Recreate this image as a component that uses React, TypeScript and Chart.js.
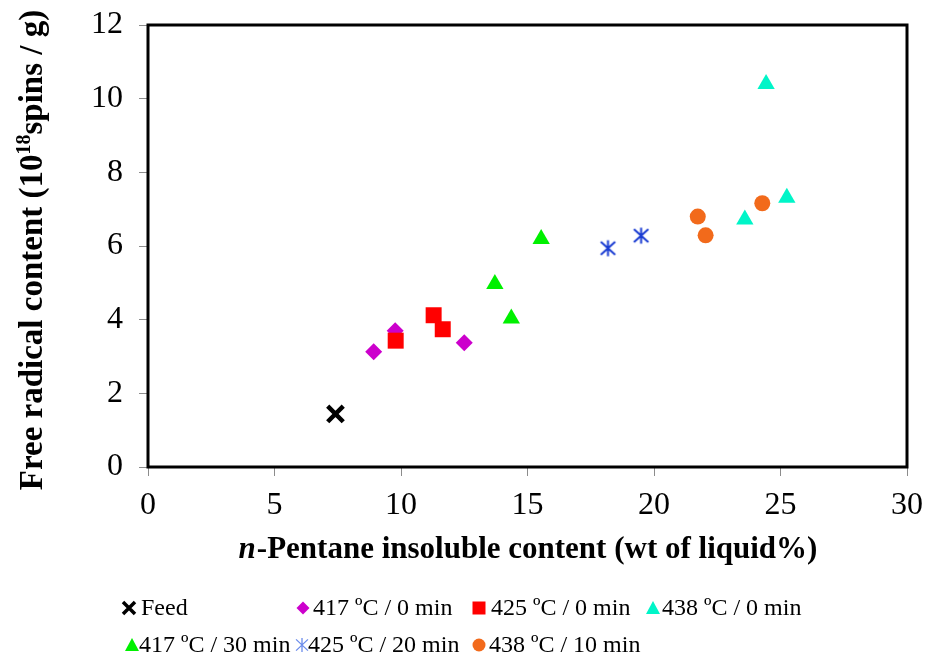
import React, { useEffect, useRef } from 'react';
import { Chart, registerables } from 'chart.js';

Chart.register(...registerables);

const SERIF = '"Liberation Serif", "Times New Roman", serif';

// ---- data ----
const seriesNames = [
  'Feed',
  '417 ºC / 0 min',
  '425 ºC / 0 min',
  '438 ºC / 0 min',
  '417 ºC / 30 min',
  '425 ºC / 20 min',
  '438 ºC / 10 min',
];

const feedX = [7.41];
const feedY = [1.44];
const s417_0X = [8.92, 9.77, 12.5];
const s417_0Y = [3.13, 3.7, 3.37];
const s425_0X = [9.79, 11.29, 11.65];
const s425_0Y = [3.43, 4.12, 3.74];
const s438_0X = [24.43, 23.59, 25.25];
const s438_0Y = [10.4, 6.72, 7.31];
const s417_30X = [13.71, 14.36, 15.54];
const s417_30Y = [4.97, 4.03, 6.19];
const s425_20X = [18.18, 19.49];
const s425_20Y = [5.94, 6.28];
const s438_10X = [21.73, 22.04, 24.28];
const s438_10Y = [6.8, 6.29, 7.16];

const xMin = 0, xMax = 30, xStep = 5;
const yMin = 0, yMax = 12, yStep = 2;

const xTitleItalic = 'n';
const xTitleRest = '-Pentane insoluble content (wt of liquid%)';
const yTitleParts = ['Free radical content (10', '18', 'spins / g)'];

// ---- styles ----
const colors = ['#000000', '#CC00CC', '#FF0000', '#00F5C8', '#00F000', '#1A3CD2', '#F26A1B'];
const legendColors = ['#000000', '#CC00CC', '#FF0000', '#00F5C8', '#00F000', '#6B8CEB', '#F26A1B'];
const kinds = ['x', 'diamond', 'square', 'triangle', 'triangle', 'asterisk', 'circle'];

function zip(xs: number[], ys: number[]) {
  return xs.map((x, i) => ({ x, y: ys[i] }));
}

function makeAsterisk(size: number, color: string, lw: number) {
  const c = document.createElement('canvas');
  c.width = size;
  c.height = size;
  const g = c.getContext('2d')!;
  g.strokeStyle = color;
  g.lineWidth = lw;
  const h = size / 2;
  const r = h - lw / 2 - 0.5;
  g.beginPath();
  g.moveTo(h, h - r);
  g.lineTo(h, h + r);
  g.moveTo(h - r * 0.9, h - r * 0.8);
  g.lineTo(h + r * 0.9, h + r * 0.8);
  g.moveTo(h + r * 0.9, h - r * 0.8);
  g.lineTo(h - r * 0.9, h + r * 0.8);
  g.stroke();
  return c;
}

function drawMarker(ctx: CanvasRenderingContext2D, kind: string, x: number, y: number, s: number, color: string) {
  ctx.save();
  ctx.fillStyle = color;
  ctx.strokeStyle = color;
  ctx.beginPath();
  if (kind === 'x') {
    ctx.lineWidth = 3.5;
    ctx.moveTo(x - s, y - s);
    ctx.lineTo(x + s, y + s);
    ctx.moveTo(x + s, y - s);
    ctx.lineTo(x - s, y + s);
    ctx.stroke();
  } else if (kind === 'diamond') {
    ctx.moveTo(x, y - s);
    ctx.lineTo(x + s, y);
    ctx.lineTo(x, y + s);
    ctx.lineTo(x - s, y);
    ctx.closePath();
    ctx.fill();
  } else if (kind === 'square') {
    ctx.rect(x - s, y - s, 2 * s, 2 * s);
    ctx.fill();
  } else if (kind === 'triangle') {
    ctx.moveTo(x, y - s);
    ctx.lineTo(x + s, y + s * 0.85);
    ctx.lineTo(x - s, y + s * 0.85);
    ctx.closePath();
    ctx.fill();
  } else if (kind === 'asterisk') {
    ctx.lineWidth = 1.3;
    ctx.moveTo(x, y - s);
    ctx.lineTo(x, y + s);
    ctx.moveTo(x - s * 0.85, y - s * 0.8);
    ctx.lineTo(x + s * 0.85, y + s * 0.8);
    ctx.moveTo(x + s * 0.85, y - s * 0.8);
    ctx.lineTo(x - s * 0.85, y + s * 0.8);
    ctx.stroke();
  } else if (kind === 'circle') {
    ctx.arc(x, y, s, 0, Math.PI * 2);
    ctx.fill();
  }
  ctx.restore();
}

// legend layout: [markerX, textX, y, markerHalfSize]
const legendLayout: [number, number, number, number][] = [
  [129, 141, 608, 6],
  [303, 313, 608, 6.5],
  [479, 491, 608, 6.5],
  [653, 662, 608, 7],
  [132, 139, 645, 7],
  [302, 308, 645, 7],
  [479, 489, 645, 6.5],
];

const framePlugin = {
  id: 'frame',
  beforeDatasetsDraw(chart: any) {
    const { ctx, chartArea: a } = chart;
    ctx.save();
    ctx.strokeStyle = '#000';
    ctx.lineWidth = 3;
    ctx.strokeRect(a.left, a.top, a.right - a.left, a.bottom - a.top);
    ctx.restore();
  },
};

const textPlugin = {
  id: 'texts',
  afterDraw(chart: any) {
    const { ctx, chartArea: a } = chart;
    ctx.save();
    ctx.fillStyle = '#000';
    ctx.textBaseline = 'alphabetic';
    ctx.textAlign = 'left';

    // x title
    const xf = 31;
    ctx.font = `italic bold ${xf}px ${SERIF}`;
    const w1 = ctx.measureText(xTitleItalic).width;
    ctx.font = `bold ${xf}px ${SERIF}`;
    const w2 = ctx.measureText(xTitleRest).width;
    const cx = (a.left + a.right) / 2;
    const sx = cx - (w1 + w2) / 2;
    ctx.font = `italic bold ${xf}px ${SERIF}`;
    ctx.fillText(xTitleItalic, sx, 558);
    ctx.font = `bold ${xf}px ${SERIF}`;
    ctx.fillText(xTitleRest, sx + w1 + 1, 558);

    // y title
    const yf = 33;
    const sf = 20;
    ctx.font = `bold ${yf}px ${SERIF}`;
    const p0 = ctx.measureText(yTitleParts[0]).width;
    const p2 = ctx.measureText(yTitleParts[2]).width;
    ctx.font = `bold ${sf}px ${SERIF}`;
    const p1 = ctx.measureText(yTitleParts[1]).width;
    const total = p0 + p1 + p2;
    ctx.translate(42, 250);
    ctx.rotate(-Math.PI / 2);
    let px = -total / 2;
    ctx.font = `bold ${yf}px ${SERIF}`;
    ctx.fillText(yTitleParts[0], px, 0);
    px += p0;
    ctx.font = `bold ${sf}px ${SERIF}`;
    ctx.fillText(yTitleParts[1], px, -12);
    px += p1;
    ctx.font = `bold ${yf}px ${SERIF}`;
    ctx.fillText(yTitleParts[2], px, 0);
    ctx.restore();

    // legend
    ctx.save();
    ctx.font = `24px ${SERIF}`;
    ctx.textBaseline = 'middle';
    ctx.textAlign = 'left';
    seriesNames.forEach((name, i) => {
      const [mx, tx, ly, ms] = legendLayout[i];
      drawMarker(ctx, kinds[i], mx, ly, ms, legendColors[i]);
      ctx.fillStyle = '#000';
      ctx.fillText(name, tx, ly + 1);
    });
    ctx.restore();
  },
};

export default function App() {
  const ref = useRef<HTMLCanvasElement | null>(null);

  useEffect(() => {
    if (!ref.current) return;
    const asterisk = makeAsterisk(19, colors[5], 2);
    const seriesData = [
      zip(feedX, feedY),
      zip(s417_0X, s417_0Y),
      zip(s425_0X, s425_0Y),
      zip(s438_0X, s438_0Y),
      zip(s417_30X, s417_30Y),
      zip(s425_20X, s425_20Y),
      zip(s438_10X, s438_10Y),
    ];
    const styles: any[] = [
      { pointStyle: 'crossRot', pointRadius: 11, borderWidth: 4.5 },
      { pointStyle: 'rectRot', pointRadius: 8.5, borderWidth: 0 },
      { pointStyle: 'rect', pointRadius: 11.3, borderWidth: 0 },
      { pointStyle: 'triangle', pointRadius: 10, borderWidth: 0 },
      { pointStyle: 'triangle', pointRadius: 10, borderWidth: 0 },
      { pointStyle: asterisk, pointRadius: 9, borderWidth: 0 },
      { pointStyle: 'circle', pointRadius: 8, borderWidth: 0 },
    ];
    const datasets = seriesNames.map((name, i) => ({
      label: name,
      data: seriesData[i],
      backgroundColor: colors[i],
      borderColor: colors[i],
      pointBorderWidth: styles[i].borderWidth,
      pointStyle: styles[i].pointStyle,
      pointRadius: styles[i].pointRadius,
      pointHoverRadius: styles[i].pointRadius,
      order: seriesNames.length - i,
    }));

    const zeroPad = (s: any) => {
      s.paddingTop = 0;
      s.paddingBottom = 0;
      s.paddingLeft = 0;
      s.paddingRight = 0;
    };

    const tickFont = { family: SERIF, size: 32 };
    const chart = new Chart(ref.current, {
      type: 'scatter',
      data: { datasets },
      options: {
        animation: false,
        responsive: false,
        maintainAspectRatio: false,
        layout: { padding: { top: 25, right: 21, left: 0, bottom: 0 } },
        plugins: { legend: { display: false }, tooltip: { enabled: false }, title: { display: false } },
        scales: {
          x: {
            type: 'linear',
            min: xMin,
            max: xMax,
            afterFit: (s: any) => { s.height = 189; zeroPad(s); },
            ticks: { stepSize: xStep, color: '#000', font: tickFont, padding: 10, maxRotation: 0 },
            grid: { drawOnChartArea: false, drawTicks: true, tickLength: 9, color: '#8c8c8c' },
            border: { display: true, color: '#8c8c8c' },
          },
          y: {
            type: 'linear',
            min: yMin,
            max: yMax,
            afterFit: (s: any) => { s.width = 148; zeroPad(s); },
            ticks: { stepSize: yStep, color: '#000', font: tickFont, padding: 16 },
            grid: { drawOnChartArea: false, drawTicks: true, tickLength: 9, color: '#8c8c8c' },
            border: { display: true, color: '#8c8c8c' },
          },
        },
      },
      plugins: [framePlugin, textPlugin],
    });
    return () => chart.destroy();
  }, []);

  return (
    <div style={{ position: 'fixed', left: 0, top: 0, width: 928, height: 656, background: '#fff' }}>
      <canvas ref={ref} width={928} height={656} />
    </div>
  );
}
